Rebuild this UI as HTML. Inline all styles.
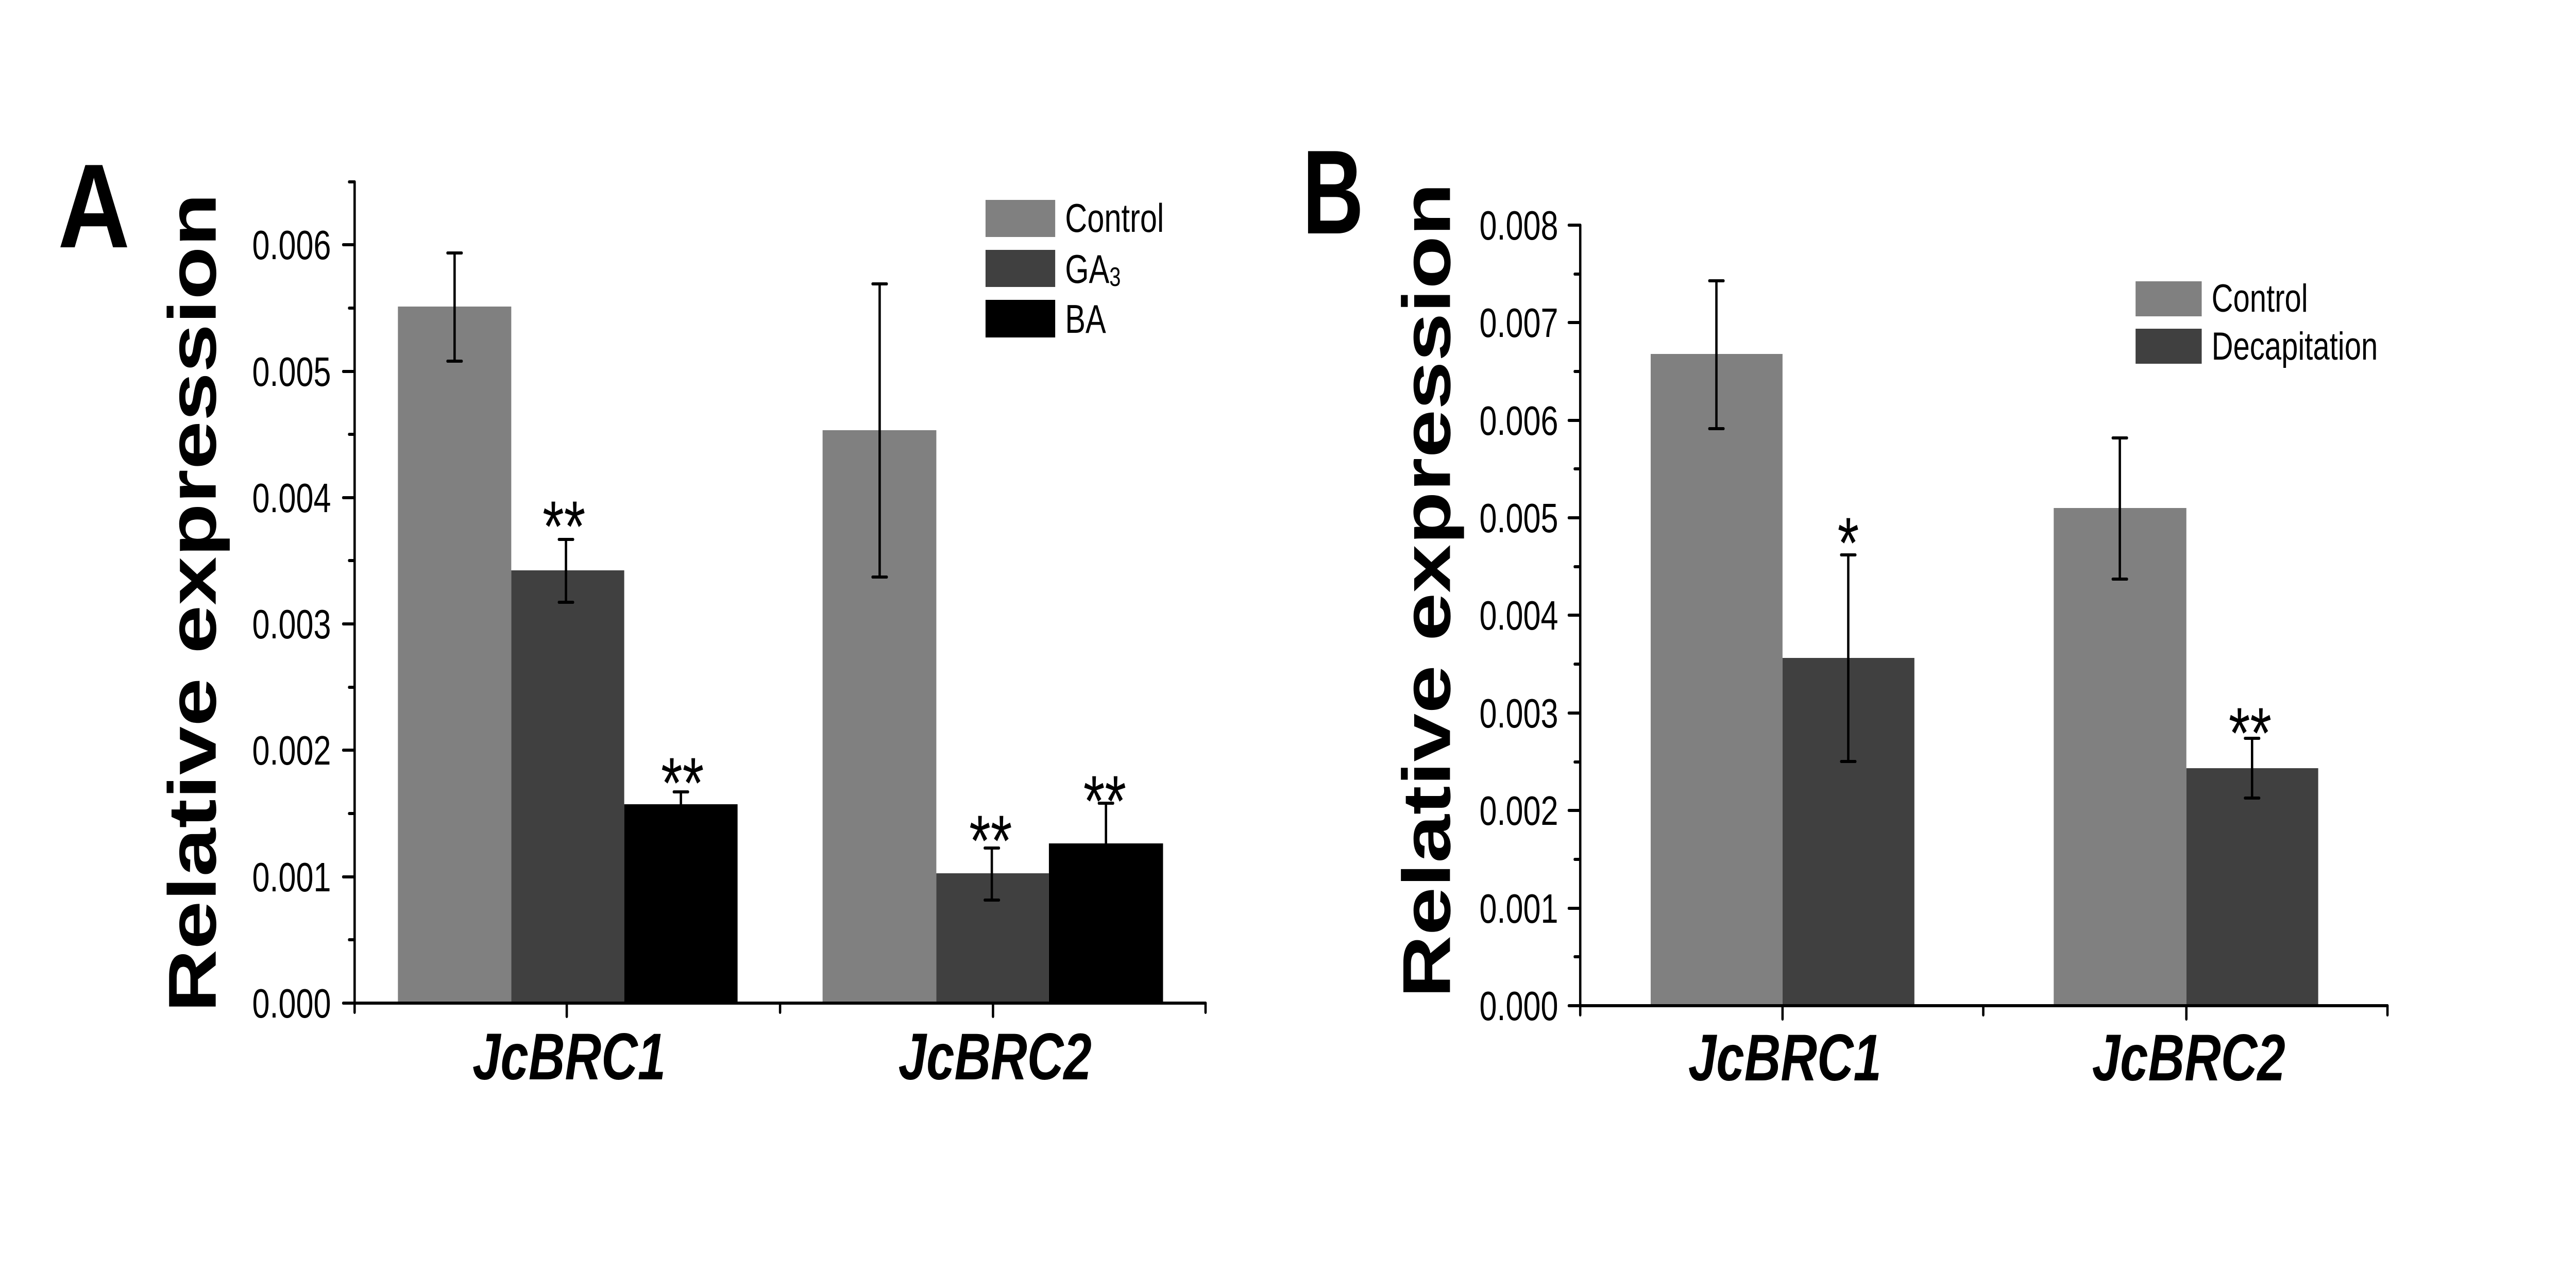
<!DOCTYPE html>
<html><head><meta charset="utf-8"><style>html,body{margin:0;padding:0;background:#fff;overflow:hidden;width:100%;height:100%}svg{display:block;position:absolute;left:0;top:0;width:100vw;height:100vh}</style></head>
<body>
<svg viewBox="0 0 6545 2498" preserveAspectRatio="none" xmlns="http://www.w3.org/2000/svg" font-family="Liberation Sans, Arial, sans-serif">
<rect width="6545" height="2498" fill="#fff"/>
<!-- Panel A -->
<text x="147" y="480" font-size="232" font-weight="bold" textLength="183" lengthAdjust="spacingAndGlyphs">A</text>
<text transform="translate(548,1170) rotate(-90)" text-anchor="middle" font-size="172" font-weight="bold" textLength="1590" lengthAdjust="spacingAndGlyphs">Relative expression</text>
<g fill="#808080"><rect x="1011" y="595" width="288" height="1352"/><rect x="2090" y="835" width="289" height="1112"/></g>
<g fill="#404040"><rect x="1299" y="1107" width="287" height="840"/><rect x="2379" y="1695" width="286" height="252"/></g>
<g fill="#000"><rect x="1586" y="1561" width="288" height="386"/><rect x="2665" y="1637" width="290" height="310"/></g>
<g stroke="#000" stroke-width="6" stroke-linecap="round">
<line x1="1155" y1="491" x2="1155" y2="701"/><line x1="1137" y1="491" x2="1173" y2="491"/><line x1="1137" y1="701" x2="1173" y2="701"/>
<line x1="1438" y1="1047" x2="1438" y2="1169"/><line x1="1420" y1="1047" x2="1456" y2="1047"/><line x1="1420" y1="1169" x2="1456" y2="1169"/>
<line x1="1730" y1="1537" x2="1730" y2="1561"/><line x1="1712" y1="1537" x2="1748" y2="1537"/>
<line x1="2235" y1="551" x2="2235" y2="1120"/><line x1="2217" y1="551" x2="2253" y2="551"/><line x1="2217" y1="1120" x2="2253" y2="1120"/>
<line x1="2520" y1="1646" x2="2520" y2="1747"/><line x1="2502" y1="1646" x2="2538" y2="1646"/><line x1="2502" y1="1747" x2="2538" y2="1747"/>
<line x1="2810" y1="1559" x2="2810" y2="1637"/><line x1="2792" y1="1559" x2="2828" y2="1559"/>
</g>
<g stroke="#000" stroke-width="6" stroke-linecap="round" fill="none">
<polyline points="901,353 901,1947 3063,1947"/>
<line x1="887" y1="353" x2="901" y2="353"/>
<line x1="872" y1="475" x2="901" y2="475"/><line x1="887" y1="598" x2="901" y2="598"/>
<line x1="872" y1="721" x2="901" y2="721"/><line x1="887" y1="843" x2="901" y2="843"/>
<line x1="872" y1="966" x2="901" y2="966"/><line x1="887" y1="1088" x2="901" y2="1088"/>
<line x1="872" y1="1211" x2="901" y2="1211"/><line x1="887" y1="1334" x2="901" y2="1334"/>
<line x1="872" y1="1456" x2="901" y2="1456"/><line x1="887" y1="1579" x2="901" y2="1579"/>
<line x1="872" y1="1702" x2="901" y2="1702"/><line x1="887" y1="1824" x2="901" y2="1824"/>
<line x1="872" y1="1947" x2="901" y2="1947"/>
<line x1="901" y1="1947" x2="901" y2="1965"/>
<line x1="1440" y1="1947" x2="1440" y2="1973"/><line x1="1982" y1="1947" x2="1982" y2="1965"/>
<line x1="2523" y1="1947" x2="2523" y2="1973"/><line x1="3063" y1="1947" x2="3063" y2="1965"/>
</g>
<g font-size="80" text-anchor="end">
<text x="841" y="503">0.006</text><text x="841" y="749">0.005</text><text x="841" y="994">0.004</text>
<text x="841" y="1239">0.003</text><text x="841" y="1484">0.002</text><text x="841" y="1730">0.001</text><text x="841" y="1975">0.000</text>
</g>
<g font-size="140" text-anchor="middle">
<text x="1433" y="1070">**</text><text x="1734" y="1568">**</text><text x="2517" y="1680">**</text><text x="2807" y="1603">**</text>
</g>
<g font-size="128" font-weight="bold" font-style="italic" text-anchor="middle">
<text x="1446" y="2095">JcBRC1</text><text x="2528" y="2095">JcBRC2</text>
</g>
<rect x="2504" y="388" width="177" height="72" fill="#808080"/>
<rect x="2504" y="485" width="177" height="72" fill="#404040"/>
<rect x="2504" y="582" width="177" height="73" fill="#000"/>
<g font-size="78"><text x="2706" y="450">Control</text><text x="2706" y="549">GA<tspan font-size="52" dy="6">3</tspan></text><text x="2706" y="646">BA</text></g>

<!-- Panel B -->
<text x="3309" y="453" font-size="232" font-weight="bold" textLength="156" lengthAdjust="spacingAndGlyphs">B</text>
<text transform="translate(3684,1146) rotate(-90)" text-anchor="middle" font-size="172" font-weight="bold" textLength="1582" lengthAdjust="spacingAndGlyphs">Relative expression</text>
<g fill="#808080"><rect x="4194" y="687" width="335" height="1265"/><rect x="5218" y="986" width="337" height="966"/></g>
<g fill="#404040"><rect x="4529" y="1277" width="335" height="675"/><rect x="5555" y="1491" width="335" height="461"/></g>
<g stroke="#000" stroke-width="6" stroke-linecap="round">
<line x1="4361" y1="545" x2="4361" y2="832"/><line x1="4343" y1="545" x2="4379" y2="545"/><line x1="4343" y1="832" x2="4379" y2="832"/>
<line x1="4696" y1="1077" x2="4696" y2="1478"/><line x1="4678" y1="1077" x2="4714" y2="1077"/><line x1="4678" y1="1478" x2="4714" y2="1478"/>
<line x1="5386" y1="850" x2="5386" y2="1124"/><line x1="5368" y1="850" x2="5404" y2="850"/><line x1="5368" y1="1124" x2="5404" y2="1124"/>
<line x1="5722" y1="1433" x2="5722" y2="1549"/><line x1="5704" y1="1433" x2="5740" y2="1433"/><line x1="5704" y1="1549" x2="5740" y2="1549"/>
</g>
<g stroke="#000" stroke-width="6" stroke-linecap="round" fill="none">
<polyline points="4015,437 4015,1952 6066,1952"/>
<line x1="3986" y1="437" x2="4015" y2="437"/><line x1="4001" y1="532" x2="4015" y2="532"/>
<line x1="3986" y1="626" x2="4015" y2="626"/><line x1="4001" y1="721" x2="4015" y2="721"/>
<line x1="3986" y1="816" x2="4015" y2="816"/><line x1="4001" y1="910" x2="4015" y2="910"/>
<line x1="3986" y1="1005" x2="4015" y2="1005"/><line x1="4001" y1="1100" x2="4015" y2="1100"/>
<line x1="3986" y1="1194" x2="4015" y2="1194"/><line x1="4001" y1="1289" x2="4015" y2="1289"/>
<line x1="3986" y1="1384" x2="4015" y2="1384"/><line x1="4001" y1="1479" x2="4015" y2="1479"/>
<line x1="3986" y1="1573" x2="4015" y2="1573"/><line x1="4001" y1="1668" x2="4015" y2="1668"/>
<line x1="3986" y1="1763" x2="4015" y2="1763"/><line x1="4001" y1="1857" x2="4015" y2="1857"/>
<line x1="3986" y1="1952" x2="4015" y2="1952"/>
<line x1="4015" y1="1952" x2="4015" y2="1970"/>
<line x1="4529" y1="1952" x2="4529" y2="1978"/><line x1="5039" y1="1952" x2="5039" y2="1970"/>
<line x1="5555" y1="1952" x2="5555" y2="1978"/><line x1="6066" y1="1952" x2="6066" y2="1970"/>
</g>
<g font-size="80" text-anchor="end">
<text x="3959" y="465">0.008</text><text x="3959" y="654">0.007</text><text x="3959" y="844">0.006</text>
<text x="3959" y="1033">0.005</text><text x="3959" y="1222">0.004</text><text x="3959" y="1412">0.003</text>
<text x="3959" y="1601">0.002</text><text x="3959" y="1791">0.001</text><text x="3959" y="1980">0.000</text>
</g>
<g font-size="140" text-anchor="middle">
<text x="4696" y="1102">*</text><text x="5717" y="1471">**</text>
</g>
<g font-size="128" font-weight="bold" font-style="italic" text-anchor="middle">
<text x="4535" y="2097">JcBRC1</text><text x="5561" y="2097">JcBRC2</text>
</g>
<rect x="5426" y="546" width="168" height="68" fill="#808080"/>
<rect x="5426" y="638" width="168" height="68" fill="#404040"/>
<g font-size="76"><text x="5619" y="605">Control</text><text x="5619" y="698">Decapitation</text></g>
</svg>
</body></html>
